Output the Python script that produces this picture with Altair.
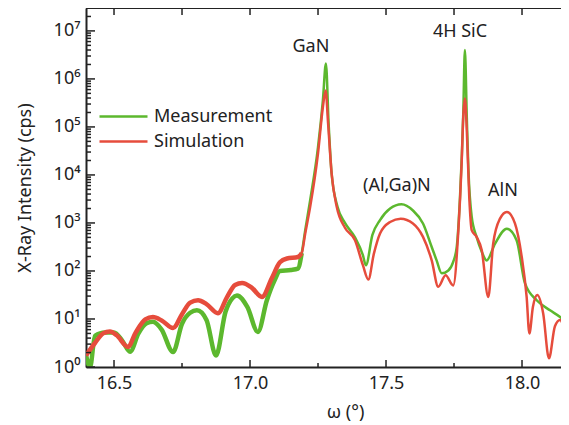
import altair as alt
import pandas as pd

# ---------------- data ----------------
series_names = ["Measurement", "Simulation"]
series_colors = ["#5cb82e", "#e64c3c"]

# Measurement: omega (deg) and log10(intensity / cps)
meas_w = [16.397, 16.412, 16.430, 16.467, 16.500, 16.530, 16.559, 16.590, 16.620, 16.643,
          16.675, 16.717, 16.750, 16.780, 16.805, 16.840, 16.875, 16.910, 16.935, 16.952,
          16.990, 17.029, 17.062, 17.090, 17.110, 17.150, 17.176, 17.190, 17.203, 17.221,
          17.250, 17.268, 17.279, 17.289, 17.300, 17.322, 17.349, 17.386, 17.415, 17.426,
          17.450, 17.478, 17.515, 17.557, 17.599, 17.636, 17.668, 17.686, 17.705, 17.729,
          17.747, 17.760, 17.772, 17.784, 17.790, 17.797, 17.803, 17.815, 17.833, 17.852,
          17.870, 17.901, 17.944, 17.980, 18.011, 18.054, 18.103, 18.140, 18.180]
meas_e = [0.25, 0.00, 0.65, 0.72, 0.72, 0.55, 0.32, 0.70, 0.91, 0.94,
          0.78, 0.31, 0.90, 1.13, 1.18, 0.98, 0.24, 1.15, 1.43, 1.49,
          1.25, 0.73, 1.39, 1.80, 2.00, 2.02, 2.05, 2.37, 2.85, 3.47,
          4.58, 5.56, 6.32, 5.07, 4.03, 3.33, 3.00, 2.70, 2.33, 2.12,
          2.75, 3.06, 3.30, 3.39, 3.26, 2.99, 2.50, 2.22, 1.95, 2.01,
          2.19, 2.50, 3.54, 5.28, 6.60, 5.20, 4.10, 3.13, 2.71, 2.40,
          2.22, 2.57, 2.88, 2.64, 1.74, 1.39, 1.18, 1.04, 0.80]

# Simulation: omega (deg) and log10(intensity / cps)
sim_w = [16.397, 16.430, 16.460, 16.485, 16.510, 16.551, 16.580, 16.615, 16.643, 16.675,
         16.717, 16.750, 16.780, 16.809, 16.840, 16.882, 16.915, 16.945, 16.971, 17.005,
         17.044, 17.080, 17.110, 17.136, 17.176, 17.190, 17.203, 17.221, 17.250, 17.268,
         17.278, 17.287, 17.300, 17.319, 17.349, 17.386, 17.415, 17.435, 17.455, 17.478,
         17.515, 17.554, 17.599, 17.636, 17.668, 17.692, 17.719, 17.747, 17.766, 17.778,
         17.784, 17.790, 17.797, 17.806, 17.815, 17.833, 17.852, 17.876, 17.894, 17.919,
         17.944, 17.974, 17.999, 18.017, 18.027, 18.040, 18.056, 18.078, 18.099, 18.121,
         18.140, 18.158, 18.180]
sim_e = [0.24, 0.50, 0.70, 0.74, 0.66, 0.42, 0.72, 0.99, 1.04, 0.97,
         0.81, 1.10, 1.34, 1.39, 1.31, 1.12, 1.45, 1.71, 1.75, 1.66,
         1.46, 1.85, 2.18, 2.26, 2.29, 2.37, 2.78, 3.33, 4.45, 5.42,
         5.76, 5.08, 4.03, 3.33, 2.90, 2.64, 2.12, 1.82, 2.35, 2.78,
         3.02, 3.09, 2.99, 2.71, 2.22, 1.67, 1.91, 1.70, 2.85, 4.24,
         5.21, 5.59, 4.93, 3.54, 2.85, 2.71, 2.43, 1.46, 2.57, 3.09,
         3.23, 2.99, 2.29, 1.46, 0.70, 1.25, 1.50, 1.11, 0.18, 0.85,
         0.98, 0.76, 0.45]

# peak annotations
peak_labels = ["GaN", "4H SiC", "(Al,Ga)N", "AlN"]
peak_w = [17.224, 17.772, 17.540, 17.930]
peak_e = [6.67, 6.97, 3.76, 3.67]

# axis ticks
x_major = [16.5, 17.0, 17.5, 18.0]
x_minor = [16.75, 17.25, 17.75]
y_major = [10.0 ** k for k in range(0, 8)]
y_minor = [m * 10.0 ** k for k in range(0, 8) for m in range(2, 10) if m * 10.0 ** k < 3.0e7]

# ---------------- chart ----------------
FONT = "Noto Sans"
TXT = "#222222"
W, H = 475, 359
xs = alt.Scale(domain=[16.397, 16.397 + W / 272.0], nice=False, zero=False)
ys = alt.Scale(type="log", domain=[1.0, 3.0e7], nice=False)

sup = "['\u2070','\u00b9','\u00b2','\u00b3','\u2074','\u2075','\u2076','\u2077']"

x_axis = alt.Axis(
    values=x_major, format=".1f", tickSize=0, domain=True, domainColor=TXT, domainWidth=2,
    grid=False, labelFont=FONT, labelFontSize=18, labelColor=TXT, labelPadding=7,
    title="\u03c9 (\u00b0)", titleFont=FONT, titleFontSize=18, titleFontWeight="normal",
    titleColor=TXT, titlePadding=11, titleX=259)
y_axis = alt.Axis(
    values=y_major, tickSize=0, domain=True, domainColor=TXT, domainWidth=2, grid=False,
    labelExpr="'10' + " + sup + "[round(log(datum.value)/LN10)]",
    labelFont=FONT, labelFontSize=18, labelColor=TXT, labelPadding=6,
    title="X-Ray Intensity (cps)", titleFont=FONT, titleFontSize=18,
    titleFontWeight="normal", titleColor=TXT, titlePadding=19)

meas = pd.DataFrame({"w": meas_w, "I": [10 ** e for e in meas_e], "series": series_names[0]})
sim = pd.DataFrame({"w": sim_w, "I": [10 ** e for e in sim_e], "series": series_names[1]})
lines_df = pd.concat([meas, sim], ignore_index=True)

color_enc = alt.Color("series:N", scale=alt.Scale(domain=series_names, range=series_colors),
                      legend=alt.Legend(title=None, orient="none", legendX=24, legendY=95,
                                        symbolType="M-2,0L2,0", symbolSize=576,
                                        symbolStrokeWidth=2.5,
                                        labelFont=FONT, labelFontSize=18, labelColor=TXT,
                                        labelOffset=17, rowPadding=2, padding=0))

base = alt.Chart(lines_df).encode(
    x=alt.X("w:Q", scale=xs, axis=x_axis),
    y=alt.Y("I:Q", scale=ys, axis=y_axis),
    color=color_enc,
)
lines = base.mark_line(strokeWidth=2.5, clip=True, interpolate="monotone")
# thicker band where the measured/simulated traces are noisy (low-intensity side)
noisy = base.transform_filter("datum.w < 17.195").mark_line(
    strokeWidth=4.5, clip=True, interpolate="monotone")

xmaj_df = pd.DataFrame({"w": x_major})
xmin_df = pd.DataFrame({"w": x_minor})
xtop_df = pd.DataFrame({"w": sorted(x_major + x_minor)})
ymaj_df = pd.DataFrame({"I": y_major})
ymin_df = pd.DataFrame({"I": y_minor})

def xtick(df, y0, y1):
    return alt.Chart(df).mark_rule(color=TXT, strokeWidth=1.5).encode(
        x=alt.X("w:Q", scale=xs, axis=x_axis), y=alt.value(y0), y2=alt.value(y1))

def ytick(df, length):
    return alt.Chart(df).mark_rule(color=TXT, strokeWidth=1.5).encode(
        y=alt.Y("I:Q", scale=ys, axis=y_axis), x=alt.value(0), x2=alt.value(length))

ticks = [xtick(xmaj_df, H, H - 7), xtick(xmin_df, H, H - 4), xtick(xtop_df, 0, 7),
         ytick(ymaj_df, 9), ytick(ymin_df, 5)]

# top frame line
top_line = alt.Chart(pd.DataFrame({"w": [x_major[0]]})).mark_rule(color=TXT, strokeWidth=2).encode(
    x=alt.value(0), x2=alt.value(W), y=alt.value(0))

ann_df = pd.DataFrame({"label": peak_labels, "w": peak_w, "I": [10 ** e for e in peak_e]})
ann = alt.Chart(ann_df).mark_text(font=FONT, fontSize=18, color=TXT, align="center",
                                  baseline="middle").encode(
    x=alt.X("w:Q", scale=xs, axis=x_axis), y=alt.Y("I:Q", scale=ys, axis=y_axis), text="label:N")

chart = alt.layer(lines, noisy, *ticks, top_line, ann).properties(
    width=W, height=H,
    autosize=alt.AutoSizeParams(type="none"),
    padding={"left": 78, "top": 0, "right": 0, "bottom": 56},
).configure_view(strokeWidth=0)

chart.save("out.html", embed_options={"renderer": "svg", "actions": False})
